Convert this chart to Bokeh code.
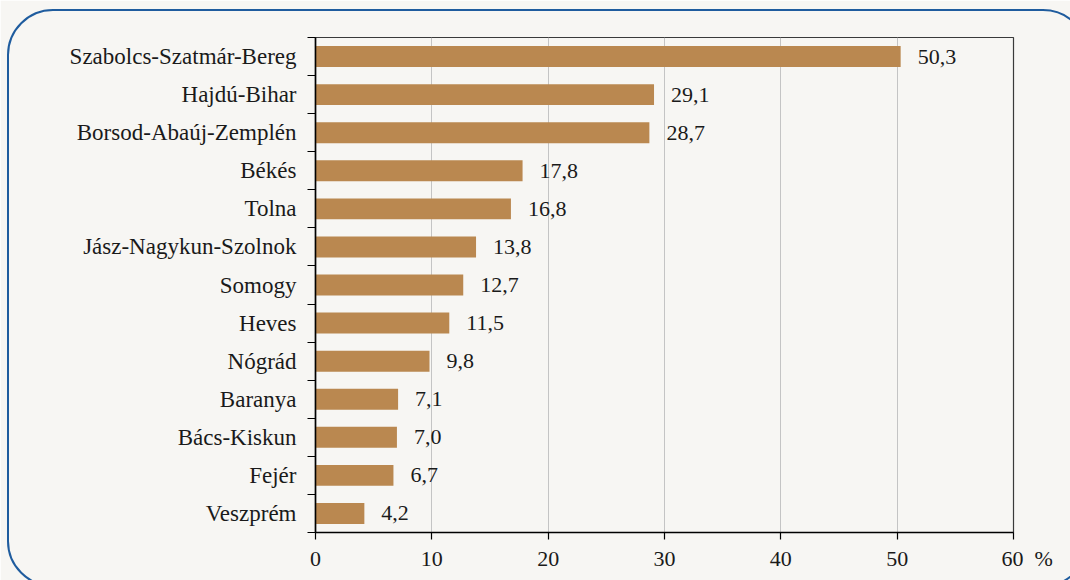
from bokeh.plotting import figure
from bokeh.models import Range1d, FixedTicker, InlineStyleSheet
from bokeh.core.properties import value
from bokeh.embed import file_html
from bokeh.resources import INLINE

counties = ["Szabolcs-Szatmár-Bereg", "Hajdú-Bihar", "Borsod-Abaúj-Zemplén", "Békés",
            "Tolna", "Jász-Nagykun-Szolnok", "Somogy", "Heves", "Nógrád", "Baranya",
            "Bács-Kiskun", "Fejér", "Veszprém"]
values = [50.3, 29.1, 28.7, 17.8, 16.8, 13.8, 12.7, 11.5, 9.8, 7.1, 7.0, 6.7, 4.2]
x_ticks = [0, 10, 20, 30, 40, 50, 60]
x_tick_labels = ["0", "10", "20", "30", "40", "50", "60"]
unit_label = "%"

W, H = 1070, 580
BG = "#f7f6f3"
BAR = "#ba8850"
FONT = "Liberation Serif"

n = len(counties)
pos = [n - 1 - i for i in range(n)]
labels = [f"{v:.1f}".replace(".", ",") for v in values]

p = figure(width=W, height=H, output_backend="svg", toolbar_location=None,
           x_range=Range1d(0, 60), y_range=Range1d(-0.5, n - 0.5),
           min_border_left=315, min_border_right=57, min_border_top=37, min_border_bottom=48)
p.background_fill_color = BG
p.border_fill_color = BG
p.outline_line_color = "#3a3a3a"
p.outline_line_width = 1.2

p.hbar(y=pos, right=values, left=0, height=0.55, fill_color=BAR, line_color=None)
p.text(x=values, y=pos, text=labels, x_offset=17, text_baseline="middle", text_align="left",
       text_font=value(FONT), text_font_size="22px", text_color="#1a1a1a")

# x axis (unit sign appended to the last tick label, padded so "60" stays centred)
overrides = {t: l for t, l in zip(x_ticks, x_tick_labels)}
overrides[x_ticks[-1]] = "\u2003\u2005" + x_tick_labels[-1] + "\u2002" + unit_label
p.xaxis.ticker = FixedTicker(ticks=x_ticks)
p.xaxis.major_label_overrides = overrides
p.xaxis.axis_line_color = "black"
p.xaxis.axis_line_width = 1.6
p.xaxis.major_tick_line_color = "black"
p.xaxis.major_tick_line_width = 1.2
p.xaxis.major_tick_out = 7
p.xaxis.major_tick_in = 0
p.xaxis.minor_tick_line_color = None
p.xaxis.major_label_standoff = 6
p.xaxis.major_label_text_font = FONT
p.xaxis.major_label_text_font_size = "22px"
p.xaxis.major_label_text_color = "#1a1a1a"

# y axis: names at bar centres, tick marks at category boundaries
p.yaxis.ticker = FixedTicker(ticks=pos, minor_ticks=[b - 0.5 for b in range(n + 1)])
p.yaxis.major_label_overrides = {pp: c for pp, c in zip(pos, counties)}
p.yaxis.axis_line_color = "black"
p.yaxis.axis_line_width = 1.6
p.yaxis.major_tick_out = 0
p.yaxis.major_tick_in = 0
p.yaxis.minor_tick_out = 8
p.yaxis.minor_tick_in = 0
p.yaxis.minor_tick_line_color = "black"
p.yaxis.minor_tick_line_width = 1.2
p.yaxis.major_label_standoff = 11
p.yaxis.major_label_text_font = FONT
p.yaxis.major_label_text_font_size = "23px"
p.yaxis.major_label_text_color = "#1a1a1a"

p.xgrid.ticker = FixedTicker(ticks=x_ticks[1:-1])
p.xgrid.grid_line_color = "#c4c4c4"
p.xgrid.grid_line_width = 1
p.ygrid.grid_line_color = None

# rounded blue frame around the whole chart (decoration)
p.stylesheets = [InlineStyleSheet(css="""
:host { position: relative; overflow: hidden; }
:host::after { content: ""; position: absolute; left: 7px; top: 9px; width: 1082px; height: 578px;
  border: 2px solid #1f5c9e; border-radius: 46px; box-sizing: border-box; pointer-events: none; }
""")]

open("out.html", "w").write(file_html(p, INLINE))
